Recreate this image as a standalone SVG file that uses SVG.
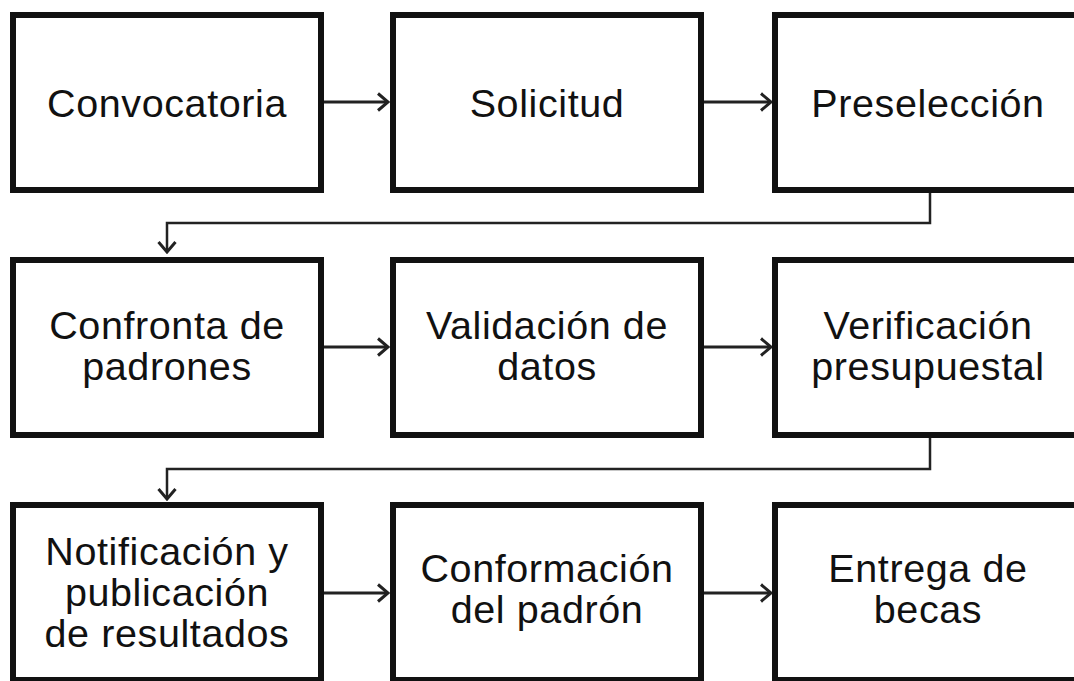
<svg xmlns="http://www.w3.org/2000/svg" width="1074" height="681" viewBox="0 0 1074 681">
<defs>
<style>
.box{fill:#fff;stroke:#111;stroke-width:6}
.t{font-family:"Liberation Sans",Arial,sans-serif;font-size:39.5px;fill:#111;text-anchor:middle;letter-spacing:0.6px}
.c{fill:none;stroke:#222;stroke-width:3;stroke-linejoin:miter}
.c2{fill:none;stroke:#222;stroke-width:2.5}
</style>
<marker id="ah" markerWidth="14" markerHeight="20" refX="12" refY="10" orient="auto" markerUnits="userSpaceOnUse">
<path d="M2,1.5 L12,10 L2,18.5" fill="none" stroke="#222" stroke-width="3"/>
</marker>
</defs>
<rect width="1074" height="681" fill="#fff"/>
<g id="connectors">
<line class="c" x1="324" y1="102" x2="388" y2="102" marker-end="url(#ah)"/>
<line class="c" x1="704" y1="102" x2="771" y2="102" marker-end="url(#ah)"/>
<polyline class="c2" points="930,193 930,223 167,223 167,252" marker-end="url(#ah)"/>
<line class="c" x1="324" y1="347" x2="388" y2="347" marker-end="url(#ah)"/>
<line class="c" x1="704" y1="347" x2="771" y2="347" marker-end="url(#ah)"/>
<polyline class="c2" points="930,438 930,469 167,469 167,499" marker-end="url(#ah)"/>
<line class="c" x1="324" y1="593" x2="388" y2="593" marker-end="url(#ah)"/>
<line class="c" x1="704" y1="593" x2="771" y2="593" marker-end="url(#ah)"/>
</g>
<g id="n1"><rect class="box" x="13" y="15" width="308" height="175"/><text class="t" x="167" y="117">Convocatoria</text></g>
<g id="n2"><rect class="box" x="393" y="15" width="308" height="175"/><text class="t" x="547" y="117">Solicitud</text></g>
<g id="n3"><rect class="box" x="775" y="15" width="308" height="175"/><text class="t" x="928" y="117">Preselección</text></g>
<g id="n4"><rect class="box" x="13" y="260" width="308" height="175"/><text class="t" x="167" y="339">Confronta de</text><text class="t" x="167" y="380">padrones</text></g>
<g id="n5"><rect class="box" x="393" y="260" width="308" height="175"/><text class="t" x="547" y="339">Validación de</text><text class="t" x="547" y="380">datos</text></g>
<g id="n6"><rect class="box" x="775" y="260" width="308" height="175"/><text class="t" x="928" y="339">Verificación</text><text class="t" x="928" y="380">presupuestal</text></g>
<g id="n7"><rect class="box" x="13" y="505" width="308" height="175"/><text class="t" x="167" y="565">Notificación y</text><text class="t" x="167" y="606">publicación</text><text class="t" x="167" y="647">de resultados</text></g>
<g id="n8"><rect class="box" x="393" y="505" width="308" height="175"/><text class="t" x="547" y="582">Conformación</text><text class="t" x="547" y="623">del padrón</text></g>
<g id="n9"><rect class="box" x="775" y="505" width="308" height="175"/><text class="t" x="928" y="582">Entrega de</text><text class="t" x="928" y="623">becas</text></g>
</svg>
